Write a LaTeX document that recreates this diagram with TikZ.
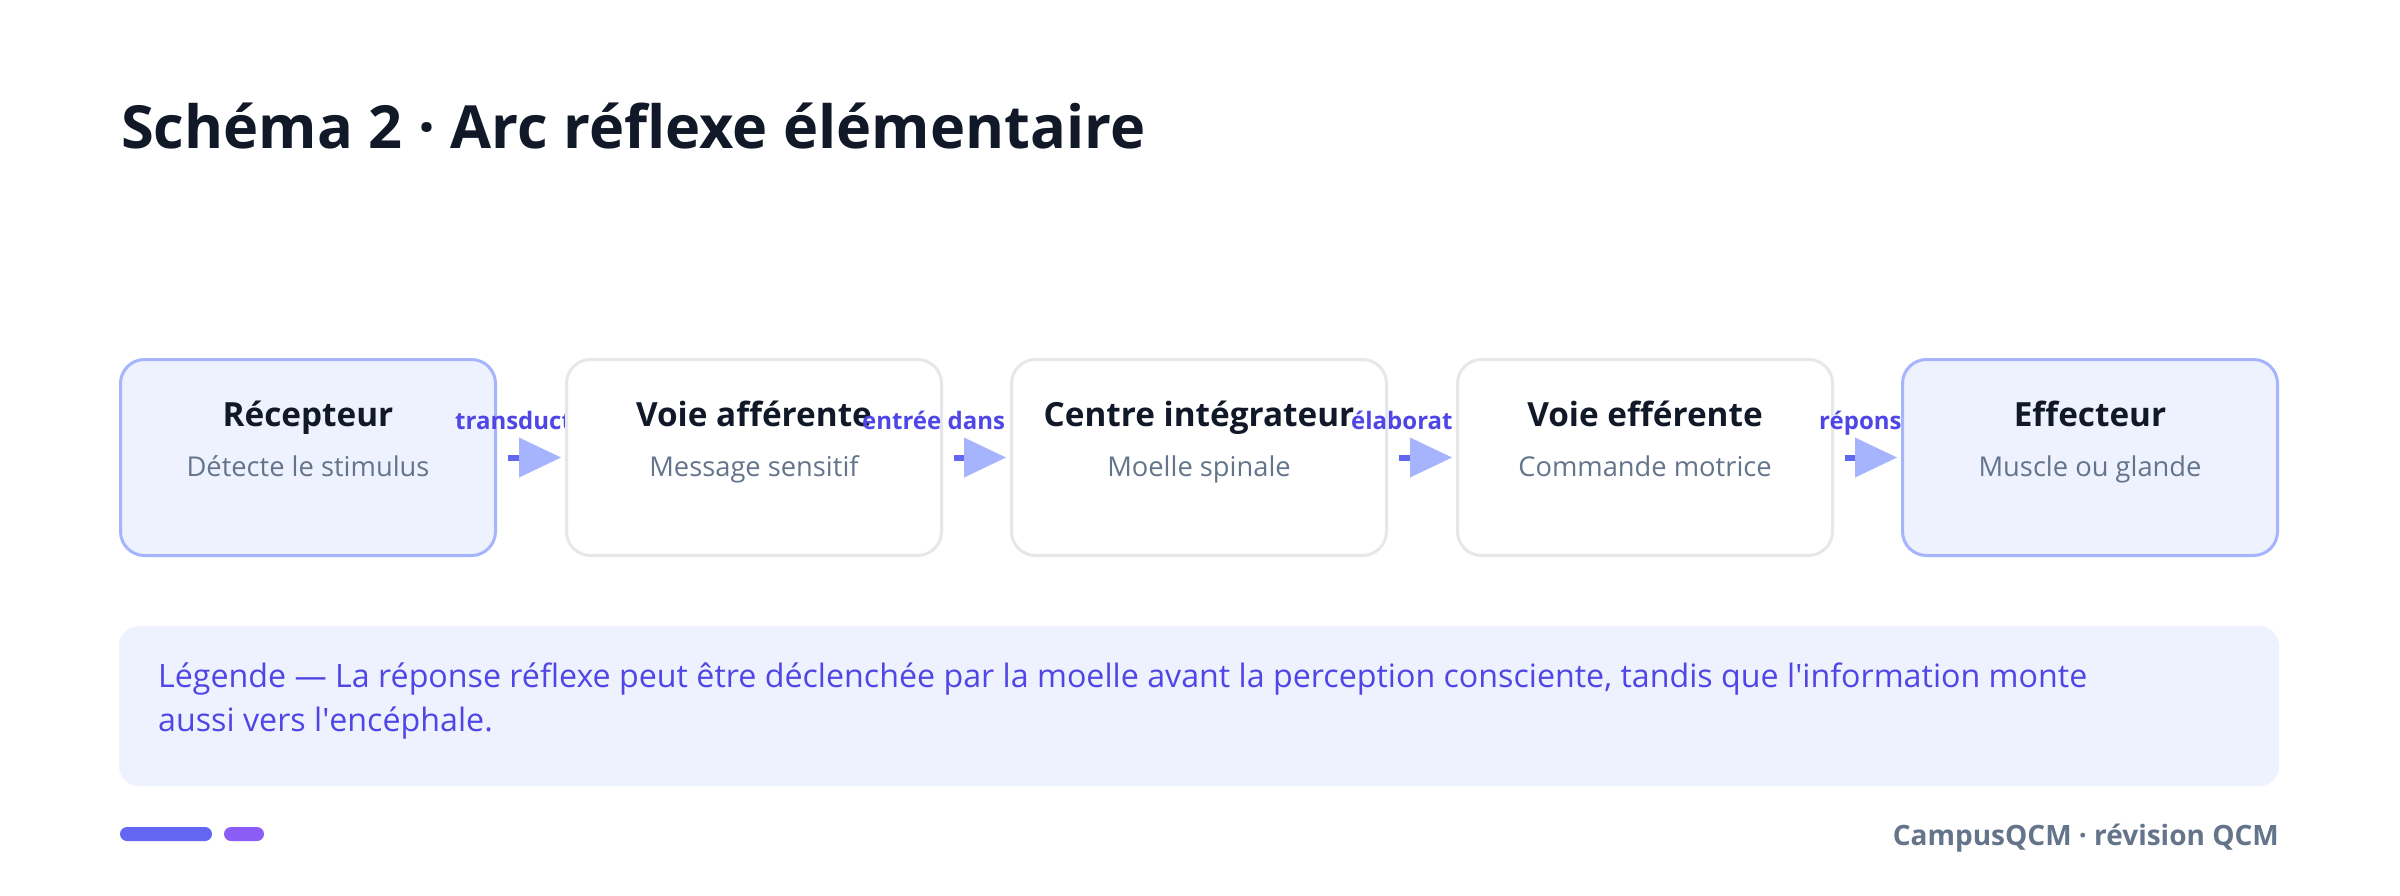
\documentclass[tikz,border=0pt]{standalone}
\usepackage{fontspec}
\setmainfont{Open Sans}
\usetikzlibrary{arrows.meta}
\definecolor{ink}{HTML}{111827}
\definecolor{slate}{HTML}{64748B}
\definecolor{indigo}{HTML}{4F46E5}
\definecolor{indigomid}{HTML}{6366F1}
\definecolor{indigolight}{HTML}{A5B4FC}
\definecolor{panel}{HTML}{EEF2FF}
\definecolor{greyline}{HTML}{E5E7EB}
\definecolor{violet}{HTML}{8B5CF6}
\tikzset{
  box/.style={rectangle, rounded corners=24pt, minimum width=375pt, minimum height=196pt, line width=3pt, inner sep=0pt},
  hibox/.style={box, draw=indigolight, fill=panel},
  plainbox/.style={box, draw=greyline, fill=white},
  btitle/.style={anchor=base, text=ink, font=\fontsize{33.3}{38}\selectfont\bfseries, inner sep=0pt},
  bsub/.style={anchor=base, text=slate, font=\fontsize{27.3}{34}\selectfont, inner sep=0pt},
  lbl/.style={anchor=base west, text=indigo, font=\fontsize{24}{30}\selectfont\bfseries, inner sep=0pt},
  flow/.style={draw=indigomid, line width=6pt, -{Triangle[length=42pt, width=40pt, line width=0pt, color=indigolight]}},
  legtxt/.style={anchor=base west, text=indigo, font=\fontsize{32.2}{40}\selectfont, inner sep=0pt},
}
\begin{document}
\begin{tikzpicture}[x=1pt, y=-1pt]
\fill[white] (0,0) rectangle (2400,895);
\useasboundingbox (0,0) rectangle (2400,895);
% title
\node[anchor=base west, text=ink, font=\fontsize{59.5}{70}\selectfont\bfseries, inner sep=0pt] (title) at (121,148) {Schéma 2 · Arc réflexe élémentaire};
% box 1
\node[hibox] (b1) at (308,457.5) {};
\node[btitle] (b1t) at ([yshift=31.5pt]b1.center) {Récepteur};
\node[bsub] (b1s) at ([yshift=-18.5pt]b1.center) {Détecte le stimulus};
\node[lbl] (l1) at (455,429) {transduct};
% box 2
\node[plainbox] (b2) at (754,457.5) {};
\node[btitle] (b2t) at ([yshift=31.5pt]b2.center) {Voie afférente};
\node[bsub] (b2s) at ([yshift=-18.5pt]b2.center) {Message sensitif};
\node[lbl] (l2) at (862,429) {entrée dans};
\draw[flow] ([xshift=11pt]b1.east) -- ([xshift=-4pt]b2.west);
% box 3
\node[plainbox] (b3) at (1199,457.5) {};
\node[btitle] (b3t) at ([yshift=31.5pt]b3.center) {Centre intégrateur};
\node[bsub] (b3s) at ([yshift=-18.5pt]b3.center) {Moelle spinale};
\node[lbl] (l3) at (1351,429) {élaborat};
\draw[flow] ([xshift=11pt]b2.east) -- ([xshift=-4pt]b3.west);
% box 4
\node[plainbox] (b4) at (1645,457.5) {};
\node[btitle] (b4t) at ([yshift=31.5pt]b4.center) {Voie efférente};
\node[bsub] (b4s) at ([yshift=-18.5pt]b4.center) {Commande motrice};
\node[lbl] (l4) at (1819,429) {répons};
\draw[flow] ([xshift=11pt]b3.east) -- ([xshift=-4pt]b4.west);
% box 5
\node[hibox] (b5) at (2090,457.5) {};
\node[btitle] (b5t) at ([yshift=31.5pt]b5.center) {Effecteur};
\node[bsub] (b5s) at ([yshift=-18.5pt]b5.center) {Muscle ou glande};
\draw[flow] ([xshift=11pt]b4.east) -- ([xshift=-4pt]b5.west);
% legend
\fill[panel, rounded corners=20pt] (119,626) rectangle (2279,786);
\node[legtxt] (leg1) at (158,687) {Légende — La réponse réflexe peut être déclenchée par la moelle avant la perception consciente, tandis que l\textquotesingle information monte};
\node[legtxt] (leg2) at (158,731) {aussi vers l\textquotesingle encéphale.};
% footer
\fill[indigomid, rounded corners=7pt] (120,827) rectangle (212,841);
\fill[violet, rounded corners=7pt] (224,827) rectangle (264,841);
\node[anchor=base east, text=slate, font=\fontsize{28}{32}\selectfont\bfseries, inner sep=0pt] (foot) at (2279,845) {CampusQCM · révision QCM};
\end{tikzpicture}
\end{document}
